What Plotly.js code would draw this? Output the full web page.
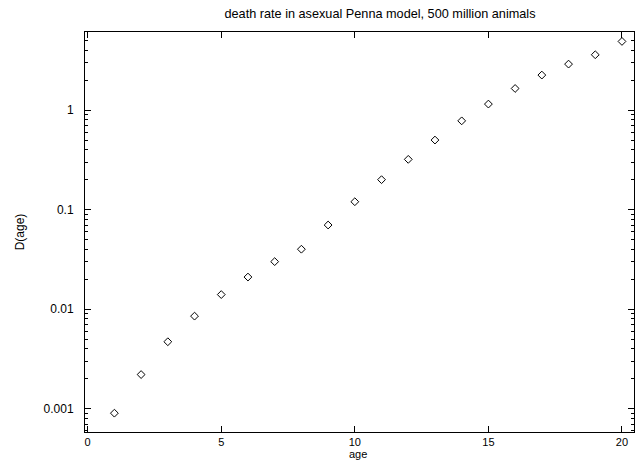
<!DOCTYPE html>
<html>
<head>
<meta charset="utf-8">
<script src="https://cdn.plot.ly/plotly-3.0.1.min.js"></script>
<style>html,body{margin:0;padding:0;background:#fff;}#chart{width:643px;height:461px;}</style>
</head>
<body>
<div id="chart"></div>
<script>
// Data
var ages = [1, 2, 3, 4, 5, 6, 7, 8, 9, 10, 11, 12, 13, 14, 15, 16, 17, 18, 19, 20];
var deathRate = [0.0009, 0.0022, 0.0047, 0.0085, 0.014, 0.021, 0.030, 0.040, 0.070, 0.12,
                 0.20, 0.32, 0.50, 0.78, 1.15, 1.65, 2.25, 2.9, 3.6, 4.9];
var xTickVals = [0, 5, 10, 15, 20];
var yTickVals = [0.001, 0.01, 0.1, 1];
var yTickText = ['0.001', '0.01', '0.1', '1'];
var yMinorVals = [0.0006, 0.0007, 0.0008, 0.0009,
                  0.002, 0.003, 0.004, 0.005, 0.006, 0.007, 0.008, 0.009,
                  0.02, 0.03, 0.04, 0.05, 0.06, 0.07, 0.08, 0.09,
                  0.2, 0.3, 0.4, 0.5, 0.6, 0.7, 0.8, 0.9,
                  2, 3, 4, 5, 6];

var font = {family: 'Liberation Sans, Arial, sans-serif', size: 12, color: '#000'};
var smallFont = {family: 'Liberation Sans, Arial, sans-serif', size: 11, color: '#000'};

var trace = {
  x: ages, y: deathRate, type: 'scatter', mode: 'markers',
  marker: {symbol: 'diamond-open', size: 6, color: '#000', line: {width: 1, color: '#000'}},
  showlegend: false, hoverinfo: 'none'
};

var layout = {
  width: 643, height: 461,
  margin: {l: 85, r: 9, t: 32, b: 29},
  paper_bgcolor: '#fff', plot_bgcolor: '#fff',
  font: font,
  title: {text: 'death rate in asexual Penna model, 500 million animals',
          font: {family: font.family, size: 12.7, color: '#000'},
          x: 0.591, xanchor: 'center', y: 0.97, yanchor: 'middle'},
  xaxis: {
    range: [-0.1, 20.45], tickmode: 'array', tickvals: xTickVals,
    ticks: 'inside', ticklen: 6, tickwidth: 1, tickcolor: '#000',
    showline: true, linecolor: '#000', linewidth: 1, mirror: 'allticks',
    showgrid: false, zeroline: false, automargin: false,
    ticklabelstandoff: 0,
    tickfont: smallFont
  },
  yaxis: {
    type: 'log', range: [-3.235, 0.785], tickmode: 'array',
    tickvals: yTickVals, ticktext: yTickText,
    ticks: 'inside', ticklen: 6, tickwidth: 1, tickcolor: '#000',
    minor: {tickmode: 'array', tickvals: yMinorVals, ticks: 'inside', ticklen: 3,
            tickwidth: 1, tickcolor: '#000', showgrid: false},
    showline: true, linecolor: '#000', linewidth: 1, mirror: 'allticks',
    showgrid: false, zeroline: false, automargin: false,
    ticklabelstandoff: 8,
    tickfont: font,
    title: {text: 'D(age)', font: font, standoff: 16}
  },
  annotations: [{
    text: 'age', xref: 'paper', yref: 'paper', x: 0.497, y: -0.056,
    xanchor: 'center', yanchor: 'middle', showarrow: false, font: smallFont
  }]
};

Plotly.newPlot('chart', [trace], layout, {staticPlot: true, displayModeBar: false});
</script>
</body>
</html>
